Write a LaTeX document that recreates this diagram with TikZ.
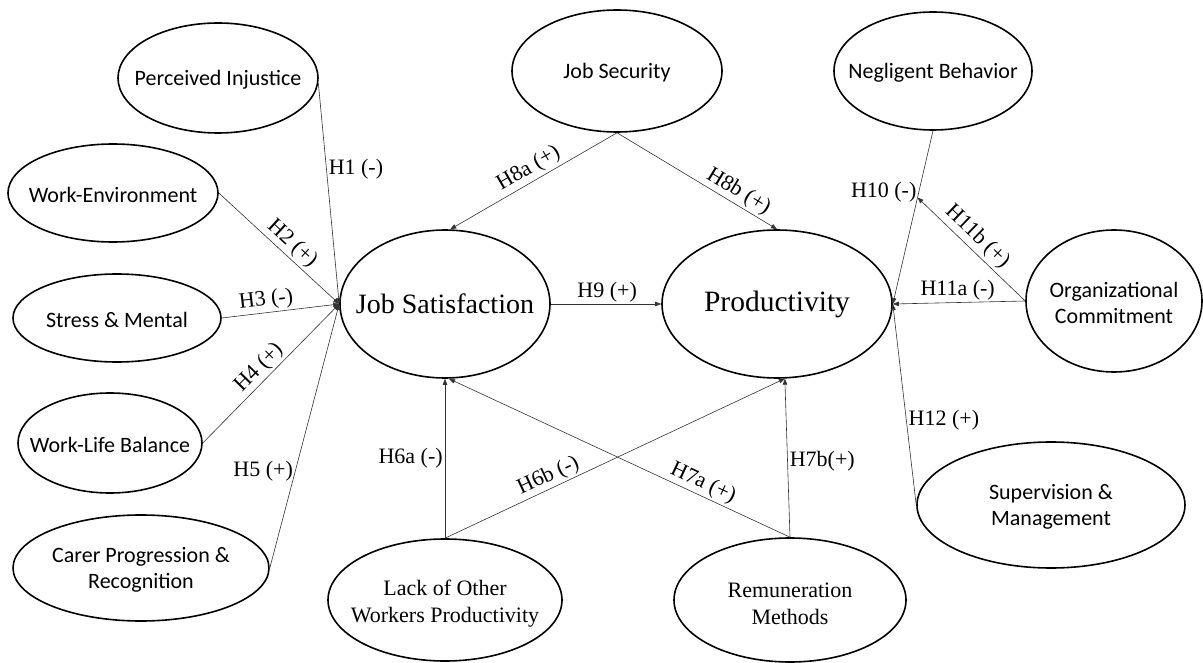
\documentclass[tikz,border=0pt]{standalone}
\usepackage{fontspec}
\setmainfont{Liberation Serif}
\newfontfamily\carlito{Carlito}
\usetikzlibrary{shapes.geometric,arrows.meta,calc}

\begin{document}
\begin{tikzpicture}[x=1pt,y=-1pt,
  construct/.style={ellipse, draw, line width=1.6pt, inner sep=0pt},
  sanstxt/.style={font=\carlito\fontsize{22}{26}\selectfont, align=center, inner sep=0pt, yshift=-1.5pt},
  seriftxt/.style={font=\fontsize{22}{27}\selectfont, align=center, inner sep=0pt, yshift=-4pt},
  bigtxt/.style={font=\fontsize{28}{32}\selectfont, inner sep=0pt},
  conn/.style={draw=black!80, line width=0.6pt, -{Triangle[length=6pt,width=4.5pt]}},
  hyp/.style={font=\fontsize{22}{24}\selectfont, inner sep=2pt, text=black}]
\useasboundingbox (0,0) rectangle (1203,663);

% antecedents of job satisfaction
\node[construct, minimum width=200pt, minimum height=110pt,
      label={[sanstxt]center:Perceived Injustice}] (pi) at (218,78) {};
\node[construct, minimum width=210pt, minimum height=98pt,
      label={[sanstxt]center:Work-Environment}] (we) at (113,193) {};
\node[construct, minimum width=208pt, minimum height=88pt,
      label={[sanstxt]center:Stress \& Mental}] (sm) at (117,318) {};
\node[construct, minimum width=184pt, minimum height=100pt,
      label={[sanstxt]center:Work-Life Balance}] (wlb) at (110,443) {};
\node[construct, minimum width=256pt, minimum height=106pt,
      label={[sanstxt]center:{Carer Progression \&\\Recognition}}] (cp) at (141,568) {};

% central constructs
\node[construct, minimum width=210pt, minimum height=148pt,
      label={[bigtxt]center:Job Satisfaction}] (js) at (445,304) {};
\node[construct, minimum width=230pt, minimum height=148pt,
      label={[bigtxt, font=\fontsize{29.5}{32}\selectfont]center:Productivity}] (prod) at (777,304) {};

% upper and lower constructs
\node[construct, minimum width=210pt, minimum height=122pt,
      label={[sanstxt]center:Job Security}] (jsec) at (617,71) {};
\node[construct, minimum width=234pt, minimum height=122pt,
      label={[seriftxt]center:{Lack of Other\\Workers Productivity}}] (lack) at (445,600) {};
\node[construct, minimum width=232pt, minimum height=124pt,
      label={[seriftxt]center:{Remuneration\\Methods}}] (rem) at (790,600) {};

% antecedents of productivity
\node[construct, minimum width=198pt, minimum height=118pt,
      label={[sanstxt]center:Negligent Behavior}] (nb) at (933,71) {};
\node[construct, minimum width=176pt, minimum height=142pt,
      label={[sanstxt]center:{Organizational\\Commitment}}] (oc) at (1114,301) {};
\node[construct, minimum width=268pt, minimum height=126pt,
      label={[sanstxt]center:{Supervision \&\\Management}}] (sup) at (1051,505) {};

% hypothesised paths
\draw[conn] (pi.-3) -- node[hyp, pos=0.39, right] {H1 (-)} (js.west);
\draw[conn] (we.east) -- node[hyp, pos=0.54, sloped, above] {H2 (+)} (js.west);
\draw[conn] (sm.east) -- node[hyp, pos=0.39, sloped, above] {H3 (-)} (js.west);
\draw[conn] (wlb.east) -- node[hyp, pos=0.48, sloped, above] {H4 (+)} (js.west);
\draw[conn] (cp.east) -- node[hyp, pos=0.365, left] {H5 (+)} (js.west);

\draw[conn] (lack.north) -- node[hyp, pos=0.5, left] {H6a (-)} (js.south);
\draw[conn] (lack.north) -- node[hyp, pos=0.32, sloped, above] {H6b (-)} (prod.-84);
\draw[conn] (rem.north) -- node[hyp, pos=0.27, sloped, above] {H7a (+)} (js.-87);
\draw[conn] (rem.north) -- node[hyp, pos=0.48, right] {H7b(+)} (prod.-84);

\draw[conn] (jsec.south) -- node[hyp, pos=0.49, sloped, above=1pt] {H8a (+)} (js.86);
\draw[conn] (jsec.south) -- node[hyp, pos=0.72, sloped, above] {H8b (+)} (prod.north);
\draw[conn] (js.east) -- node[hyp, pos=0.51, above] {H9 (+)} (prod.west);

\draw[conn] (nb.south) -- node[hyp, pos=0.356, left] {H10 (-)} (prod.east);
\coordinate (h10) at ($(nb.south)!0.385!(prod.east)$);
\draw[conn] (oc.west) -- node[hyp, pos=0.53, sloped, above=1pt] {H11b (+)} (h10);
\draw[conn] (oc.west) -- node[hyp, pos=0.51, above] {H11a (-)} (prod.east);
\draw[conn] (sup.west) -- node[hyp, pos=0.42, right] {H12 (+)} (prod.east);
\end{tikzpicture}
\end{document}
